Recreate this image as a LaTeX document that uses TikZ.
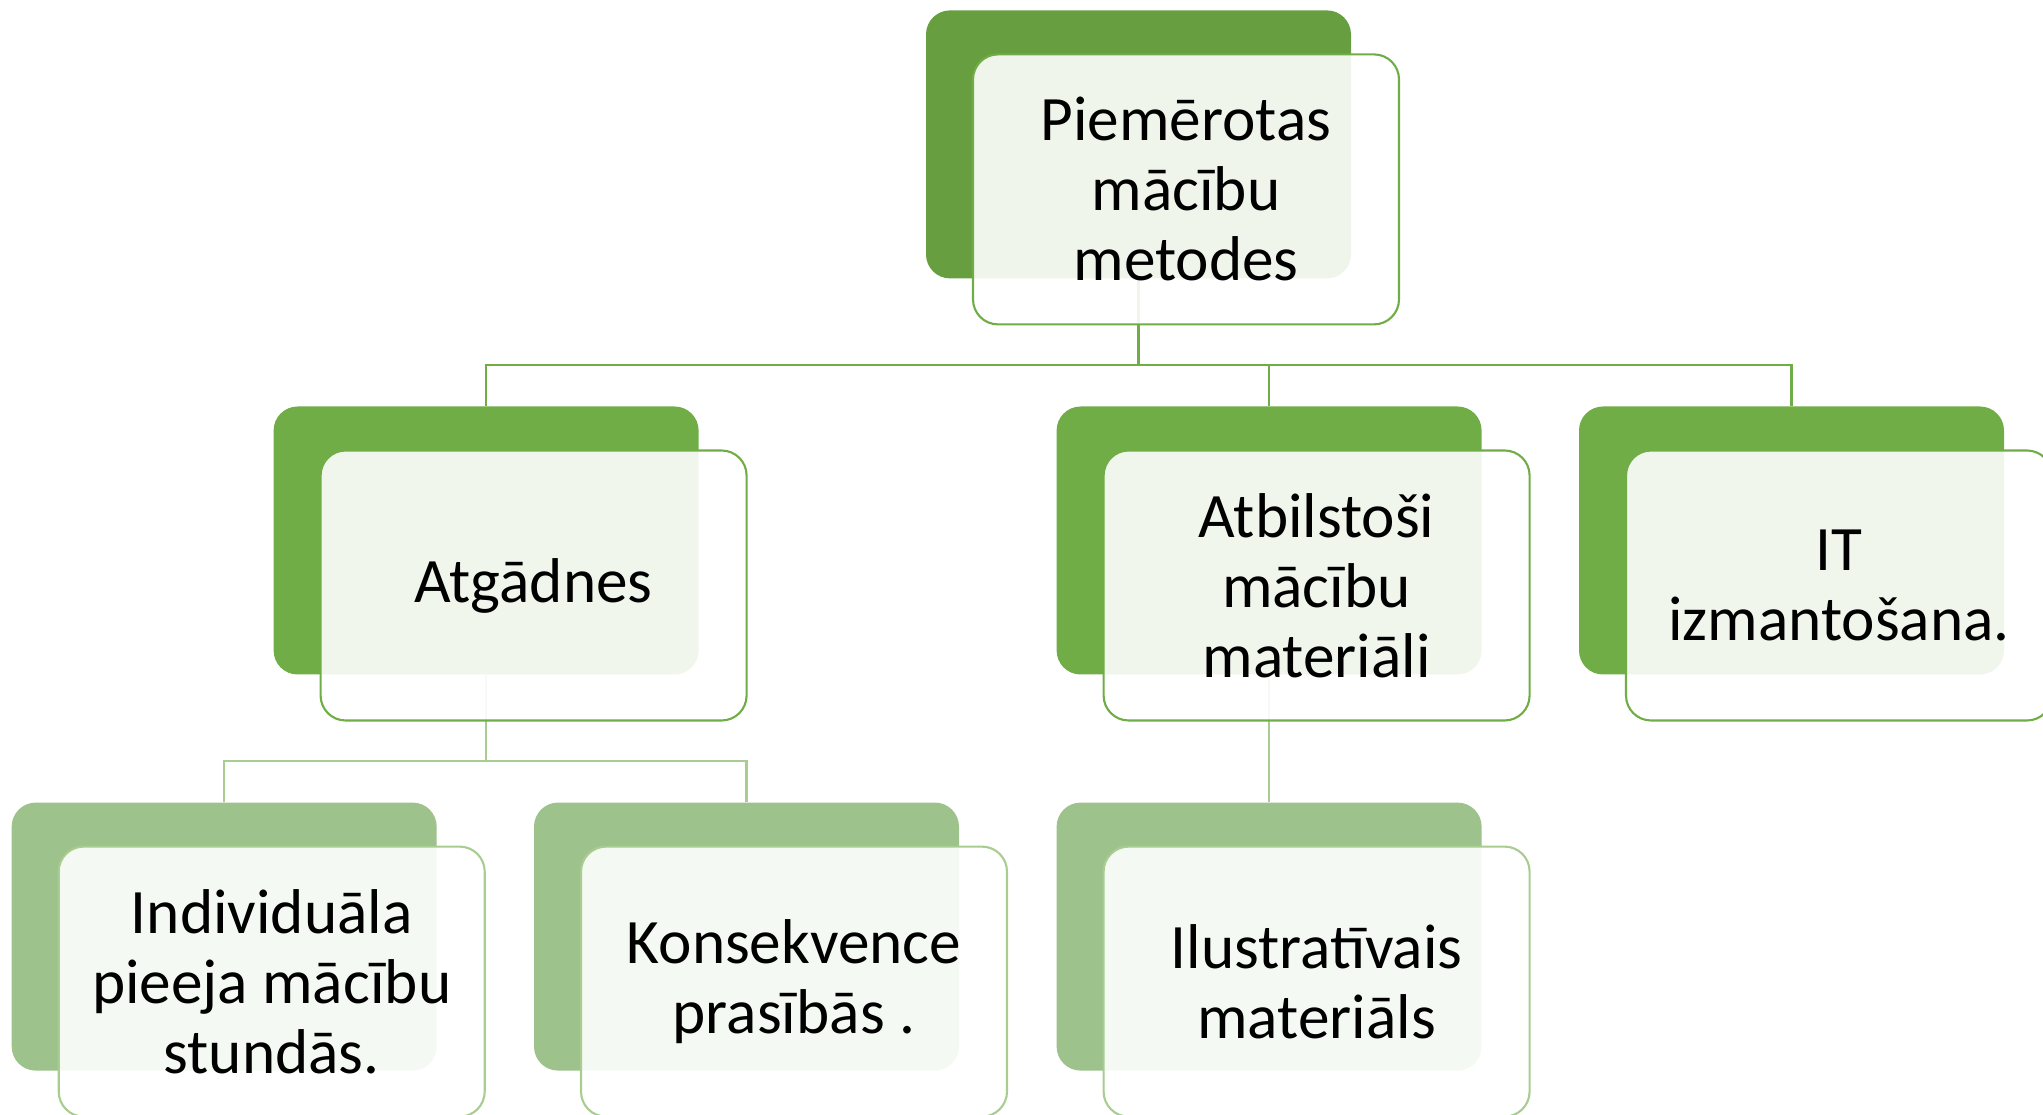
\documentclass[tikz,border=0pt]{standalone}
\usepackage{fontspec}
\setmainfont{Carlito}
\usetikzlibrary{positioning,calc}
\definecolor{topGreen}{RGB}{103,158,64}
\definecolor{midGreen}{RGB}{112,173,71}
\definecolor{lowGreen}{RGB}{158,194,139}
\definecolor{lineLight}{RGB}{169,205,144}
\tikzset{
  backbox/.style={
    rectangle, rounded corners=0.24cm, inner sep=0pt,
    minimum width=4.25cm, minimum height=2.68cm
  },
  frontbox/.style={
    rectangle, rounded corners=0.25cm, inner sep=0pt,
    minimum width=4.26cm, minimum height=2.70cm,
    draw=midGreen, line width=0.6pt, fill=white, fill opacity=0.9,
    text opacity=1, align=center, font=\fontsize{18}{19.9}\selectfont
  },
  link/.style={draw=midGreen, line width=0.65pt},
  lowlink/.style={draw=lineLight, line width=0.65pt}
}
\begin{document}
\begin{tikzpicture}
  \useasboundingbox (0,0) rectangle (20.43,-11.15);
  % back shapes
  \node[backbox, fill=topGreen] (top) at (11.385,-1.444) {};
  \node[backbox, fill=midGreen] (atg) at (4.861,-5.405) {};
  \node[backbox, fill=midGreen] (atb) at (12.691,-5.405) {};
  \node[backbox, fill=midGreen] (it) at (17.915,-5.405) {};
  \node[backbox, fill=lowGreen] (ind) at (2.242,-9.366) {};
  \node[backbox, fill=lowGreen] (kon) at (7.465,-9.366) {};
  \node[backbox, fill=lowGreen] (ilu) at (12.691,-9.366) {};
  % connectors
  \draw[link] (top.south) -- ++(0,-0.86) coordinate (bus0);
  \draw[link] (bus0) -| (atg.north);
  \draw[link] (bus0) -| (atb.north);
  \draw[link] (bus0) -| (it.north);
  \draw[lowlink] (atg.south) -- ++(0,-0.86) coordinate (bus1);
  \draw[lowlink] (bus1) -| (ind.north);
  \draw[lowlink] (bus1) -| (kon.north);
  \draw[lowlink] (atb.south) -- (ilu.north);
  % front shapes with text
  \node[frontbox] (topT) at ($(top)+(0.475,-0.45)$) {Piemērotas\\mācību\\metodes};
  \node[frontbox] (atgT) at ($(atg)+(0.475,-0.45)$) {Atgādnes};
  \node[frontbox] (atbT) at ($(atb)+(0.475,-0.45)$) {Atbilstoši\\mācību\\materiāli};
  \node[frontbox] (itT) at ($(it)+(0.475,-0.45)$) {IT\\izmantošana.};
  \node[frontbox, draw=lineLight] (indT) at ($(ind)+(0.475,-0.45)$) {Individuāla\\pieeja mācību\\stundās.};
  \node[frontbox, draw=lineLight] (konT) at ($(kon)+(0.475,-0.45)$) {Konsekvence\\prasībās .};
  \node[frontbox, draw=lineLight] (iluT) at ($(ilu)+(0.475,-0.45)$) {Ilustratīvais\\materiāls};
\end{tikzpicture}
\end{document}
